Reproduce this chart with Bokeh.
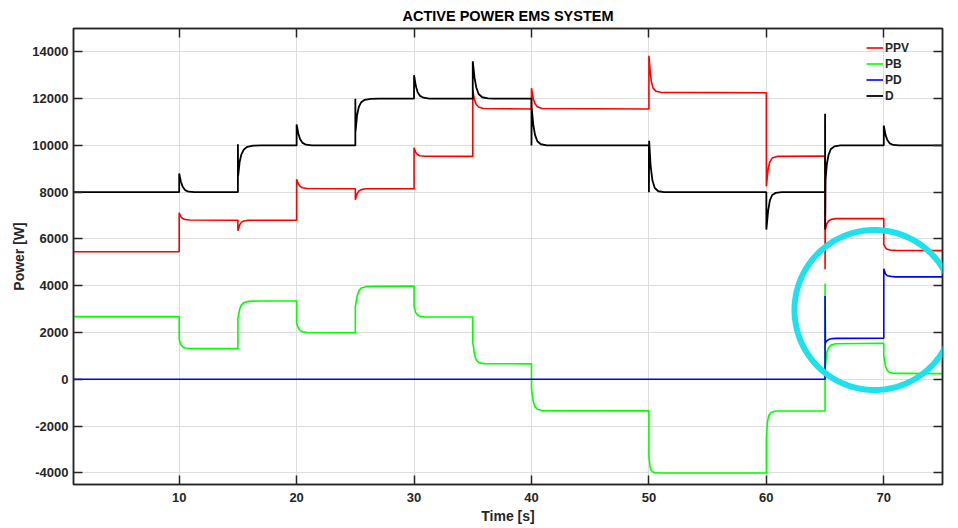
import numpy as np
from bokeh.plotting import figure
from bokeh.models import (LinearAxis, FixedTicker, Legend, LegendItem,
                          PolyAnnotation, Range1d, CustomJSTickFormatter)
from bokeh.embed import file_html
from bokeh.resources import INLINE

# ---------------- data ----------------
x_ticks = [10, 20, 30, 40, 50, 60, 70]
y_ticks = [-4000, -2000, 0, 2000, 4000, 6000, 8000, 10000, 12000, 14000]

d_t = [1, 10, 10, 10.15, 10.3, 10.5, 10.8, 11.3,
       15, 15, 15.02, 15.15, 15.3, 15.5, 15.8, 16.3, 17,
       20, 20, 20.15, 20.3, 20.5, 20.8, 21.3,
       25, 25, 25.02, 25.15, 25.3, 25.5, 25.8, 26.3, 27,
       30, 30, 30.15, 30.3, 30.5, 30.8, 31.3,
       35, 35, 35.15, 35.3, 35.5, 35.8, 36.3, 36.8,
       40, 40, 40.02, 40.15, 40.3, 40.5, 40.8, 41.3,
       50, 50, 50.02, 50.15, 50.3, 50.5, 50.8, 51.3,
       60, 60, 60.15, 60.3, 60.5, 60.8, 61.3,
       65, 65, 65.01, 65.04, 65.15, 65.3, 65.5, 65.8, 66.3,
       70, 70, 70.15, 70.3, 70.5, 70.8, 71.3, 75]
d_v = [8000, 8000, 8800, 8450, 8230, 8090, 8020, 8000,
       8000, 10050, 8700, 9300, 9620, 9820, 9940, 9990, 10000,
       10000, 10900, 10500, 10260, 10110, 10030, 10000,
       10000, 12000, 10600, 11300, 11650, 11850, 11950, 11990, 12000,
       12000, 13000, 12550, 12280, 12120, 12040, 12000,
       12000, 13600, 12900, 12480, 12200, 12060, 12010, 12000,
       12000, 10000, 11600, 10900, 10450, 10180, 10050, 10000,
       10000, 8000, 10200, 9100, 8500, 8180, 8040, 8000,
       8000, 6400, 7200, 7650, 7880, 7970, 8000,
       8000, 11350, 6400, 8500, 9200, 9600, 9850, 9960, 10000,
       10000, 10850, 10450, 10230, 10090, 10020, 10000, 10000]

ppv_t = [1, 10, 10, 10.15, 10.3, 10.5, 10.9,
         15, 15, 15.15, 15.3, 15.5, 15.9,
         20, 20, 20.15, 20.3, 20.5, 20.9,
         25, 25, 25.15, 25.3, 25.5, 25.9,
         30, 30, 30.15, 30.3, 30.5, 30.9,
         35, 35, 35.15, 35.3, 35.5, 35.9,
         40, 40, 40.15, 40.3, 40.5, 40.9,
         50, 50, 50.1, 50.2, 50.35, 50.6, 51,
         60, 60, 60.05, 60.15, 60.3, 60.5, 60.9,
         65, 65, 65.02, 65.15, 65.3, 65.5, 65.9,
         70, 70, 70.15, 70.3, 70.6, 71, 75]
ppv_v = [5450, 5450, 7120, 6950, 6870, 6830, 6810,
         6800, 6350, 6600, 6720, 6770, 6800,
         6800, 8550, 8350, 8250, 8190, 8160,
         8150, 7680, 7930, 8050, 8110, 8150,
         8150, 9900, 9700, 9610, 9560, 9540,
         9530, 12350, 11950, 11750, 11640, 11580,
         11560, 12450, 12000, 11780, 11650, 11580,
         11560, 13830, 13200, 12750, 12450, 12320, 12270,
         12250, 8250, 8500, 9000, 9300, 9460, 9530,
         9550, 4700, 6400, 6650, 6770, 6830, 6870,
         6870, 5770, 5620, 5560, 5520, 5510, 5500]

pb_t = [1, 10, 10, 10.15, 10.3, 10.5, 10.9,
        15, 15, 15.15, 15.3, 15.5, 15.9, 17,
        20, 20, 20.15, 20.3, 20.5, 20.9,
        25, 25, 25.15, 25.3, 25.5, 25.9, 26.5,
        30, 30, 30.15, 30.3, 30.5, 30.9,
        35, 35, 35.15, 35.3, 35.5, 35.9,
        40, 40, 40.15, 40.3, 40.5, 40.9,
        50, 50, 50.1, 50.2, 50.4, 50.8,
        60, 60, 60.1, 60.2, 60.4, 60.8,
        65, 65, 65.02, 65.15, 65.3, 65.5, 65.9,
        70, 70, 70.15, 70.3, 70.5, 70.9, 75]
pb_v = [2680, 2680, 1700, 1480, 1390, 1340, 1315,
        1310, 2600, 3000, 3180, 3280, 3330, 3350,
        3350, 2400, 2180, 2080, 2030, 2000,
        1990, 3100, 3550, 3780, 3900, 3960, 3980,
        3990, 3100, 2850, 2750, 2690, 2665,
        2660, 1600, 1050, 830, 720, 670,
        660, -400, -950, -1170, -1280, -1340,
        -1350, -3300, -3750, -3900, -3980, -4010,
        -4010, -2500, -1800, -1560, -1420, -1360,
        -1350, 4090, 500, 1150, 1350, 1460, 1520,
        1540, 1000, 550, 380, 290, 250, 240]

pd_t = [1, 65, 65, 65.03, 65.1, 65.3, 65.6, 66,
        70, 70, 70.15, 70.3, 70.6, 71, 75]
pd_v = [0, 0, 3560, 1550, 1620, 1700, 1740, 1750,
        1760, 4730, 4500, 4430, 4400, 4380, 4380]

series_names = ["PPV", "PB", "PD", "D"]
series_colors = ["#ff0000", "#00ff00", "#0000ff", "#000000"]

# ---------------- figure ----------------
FONT = "Liberation Sans"
AX = "#262626"

p = figure(width=958, height=528, output_backend="svg", toolbar_location=None,
           x_range=Range1d(1, 75), y_range=Range1d(-4500, 15000),
           min_border_left=73, min_border_right=16, min_border_top=0,
           min_border_bottom=44, background_fill_color="white",
           border_fill_color="white")

p.title.text = "ACTIVE POWER EMS SYSTEM"
p.title.align = "center"
p.title.text_font = FONT
p.title.text_font_size = "14.5px"
p.title.text_font_style = "bold"
p.title.text_color = "#000000"
p.title.offset = 0

p.outline_line_color = AX
p.outline_line_width = 1.5


def style_axis(ax, ticks, show_labels):
    ax.ticker = FixedTicker(ticks=ticks)
    ax.axis_line_color = AX
    ax.axis_line_width = 1.5
    ax.major_tick_line_color = AX
    ax.major_tick_line_width = 1.5
    ax.major_tick_in = 9
    ax.major_tick_out = 0
    ax.minor_tick_in = 0
    ax.minor_tick_out = 0
    ax.major_label_text_font = FONT
    ax.major_label_text_font_style = "bold"
    ax.major_label_text_color = AX
    ax.major_label_text_font_size = "13px"
    if show_labels:
        ax.formatter = CustomJSTickFormatter(code="return String(Math.round(tick))")
    else:
        ax.formatter = CustomJSTickFormatter(code="return ''")
        ax.major_label_standoff = 0


style_axis(p.xaxis[0], x_ticks, True)
style_axis(p.yaxis[0], y_ticks, True)
p.xaxis[0].major_label_standoff = 8
p.yaxis[0].major_label_standoff = 5
p.xaxis[0].axis_label = "Time [s]"
p.yaxis[0].axis_label = "Power [W]"
for ax in (p.xaxis[0], p.yaxis[0]):
    ax.axis_label_text_font = FONT
    ax.axis_label_text_font_style = "bold"
    ax.axis_label_text_font_size = "14px"
    ax.axis_label_text_color = AX
p.xaxis[0].axis_label_standoff = 3
p.yaxis[0].axis_label_standoff = 2

top_ax = LinearAxis()
style_axis(top_ax, x_ticks, False)
p.add_layout(top_ax, "above")
right_ax = LinearAxis()
style_axis(right_ax, y_ticks, False)
p.add_layout(right_ax, "right")

p.xgrid.ticker = FixedTicker(ticks=x_ticks)
p.ygrid.ticker = FixedTicker(ticks=y_ticks)
for g in (p.xgrid[0], p.ygrid[0]):
    g.grid_line_color = "#dedede"
    g.grid_line_width = 1

# ---------------- lines ----------------
data = [(ppv_t, ppv_v), (pb_t, pb_v), (pd_t, pd_v), (d_t, d_v)]
widths = [1.6, 1.6, 1.6, 1.8]
renderers = []
for (t, v), c, w in zip(data, series_colors, widths):
    renderers.append(p.line(t, v, line_color=c, line_width=w))

legend = Legend(items=[LegendItem(label=n, renderers=[r])
                       for n, r in zip(series_names, renderers)])
legend.location = (793, 381)
legend.orientation = "vertical"
legend.padding = 0
legend.margin = 0
legend.spacing = 1
legend.glyph_width = 17
legend.glyph_height = 15
legend.label_height = 15
legend.label_standoff = 2
legend.label_text_font = FONT
legend.label_text_font_size = "12px"
legend.label_text_font_style = "bold"
legend.label_text_color = AX
legend.border_line_alpha = 0
legend.background_fill_alpha = 0
p.add_layout(legend)

# ---------------- cyan highlight circle (canvas pixels) ----------------
cx, cy, r = 874, 309.5, 80
ang = np.linspace(0, 2 * np.pi, 181)
circle = PolyAnnotation(xs=list(cx + r * np.cos(ang)), ys=list(cy + r * np.sin(ang)),
                        xs_units="canvas", ys_units="canvas",
                        fill_alpha=0, line_color="#1de2ee", line_alpha=1,
                        line_width=6, level="overlay")
p.add_layout(circle)

open("out.html", "w").write(file_html(p, INLINE))
